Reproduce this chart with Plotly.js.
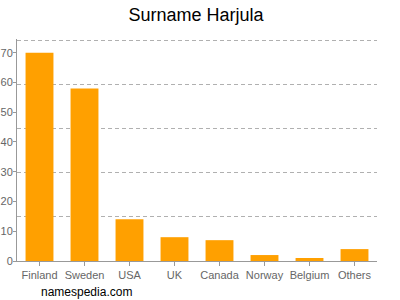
<!DOCTYPE html>
<html><head><meta charset="utf-8">
<script src="https://cdn.plot.ly/plotly-3.0.1.min.js"></script>
<style>html,body{margin:0;padding:0;background:#fff}#c{width:400px;height:300px}</style>
</head><body><div id="c"></div>
<script>
const countries = ["Finland","Sweden","USA","UK","Canada","Norway","Belgium","Others"];
const counts = [70,58,14,8,7,2,1,4];
const yTicks = [0,10,20,30,40,50,60,70];
const yMax = 74.6;
const gridStep = 14.84;

const data = [
  {type:"bar", x:countries, y:counts, marker:{color:"#FFA000"}, width:0.62, hoverinfo:"x+y"}
];
const layout = {
  width:400, height:300,
  margin:{l:17, r:23, t:39, b:39},
  paper_bgcolor:"#fff", plot_bgcolor:"#fff",
  showlegend:false,
  font:{family:"Liberation Sans, Arial, sans-serif", color:"#666", size:11},
  title:{text:"Surname Harjula", font:{size:18, color:"#000", family:"Liberation Sans, Arial, sans-serif"}, x:0.49, xanchor:"center", y:0.95, yanchor:"middle"},
  xaxis:{showline:true, linecolor:"#999", linewidth:1, ticks:"outside", ticklen:4, tickcolor:"#999", showgrid:false, tickfont:{size:11, color:"#666"}, fixedrange:true},
  yaxis:{range:[0,yMax], tickmode:"array", tickvals:yTicks, showgrid:false, showline:true, linecolor:"#999", linewidth:1, ticks:"outside", ticklen:3, tickcolor:"#999", ticklabelstandoff:-2, tickfont:{size:11, color:"#666"}, zeroline:false, fixedrange:true,
    minor:{tickmode:"linear", tick0:0, dtick:gridStep, showgrid:true, gridcolor:"#b0b0b0", griddash:"4px,3px", gridwidth:1, ticks:""}},
  annotations:[{text:"namespedia.com", xref:"paper", yref:"paper", x:0.062, y:-0.14, xanchor:"left", yanchor:"middle", showarrow:false, font:{size:12, color:"#000"}}]
};
Plotly.newPlot("c", data, layout, {displayModeBar:false, staticPlot:true});
</script></body></html>
